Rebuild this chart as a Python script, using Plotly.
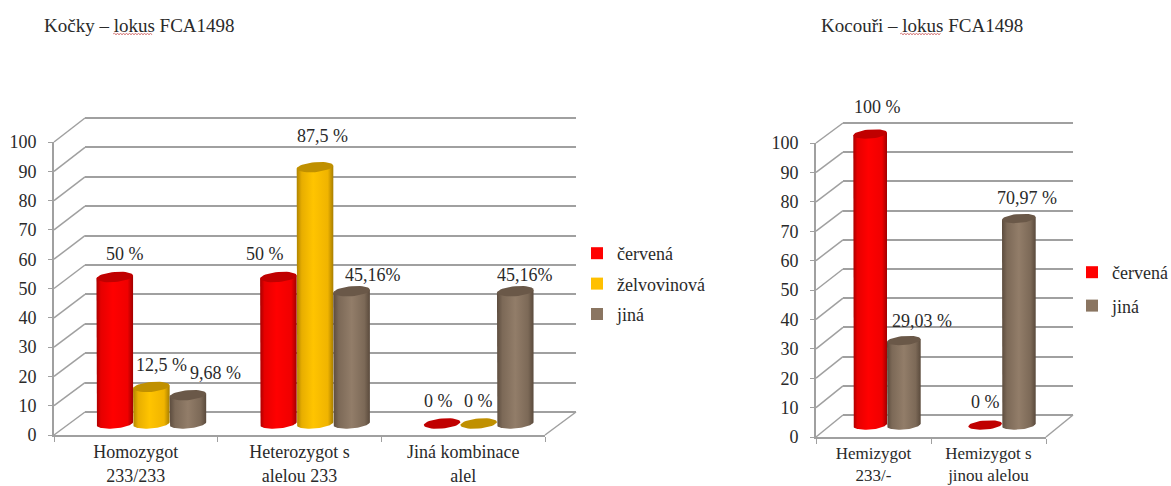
import math
import plotly.graph_objects as go

W, H = 1171, 486

# ---------- data ----------
left_title = "Kočky – lokus FCA1498"
right_title = "Kocouři – lokus FCA1498"
left_categories = ["Homozygot<br>233/233", "Heterozygot s<br>alelou 233", "Jiná kombinace<br>alel"]
right_categories = ["Hemizygot<br>233/-", "Hemizygot s<br>jinou alelou"]
left_red = [50, 50, 0]
left_yellow = [12.5, 87.5, 0]
left_brown = [9.68, 45.16, 45.16]
right_red = [100, 0]
right_brown = [29.03, 70.97]
left_red_labels = ["50 %", "50 %", "0 %"]
left_yellow_labels = ["12,5 %", "87,5 %", "0 %"]
left_brown_labels = ["9,68 %", "45,16%", "45,16%"]
right_red_labels = ["100 %", "0 %"]
right_brown_labels = ["29,03 %", "70,97 %"]
y_ticks = list(range(0, 101, 10))

# ---------- styles ----------
FONT = "Liberation Serif"
TXT = "#2a2a2a"
GRID = "#a0a0a0"
TEXT_SIZE = 18
STYLE = {
    "červená": dict(base="#ff0000", cap="#c00000",
                    grad=[[0, "#a80000"], [.12, "#e60000"], [.45, "#ff0000"], [.85, "#f00000"], [1, "#a00000"]]),
    "želvovinová": dict(base="#ffc000", cap="#c09000",
                        grad=[[0, "#b08400"], [.14, "#e8ae00"], [.45, "#ffc400"], [.85, "#f0b400"], [1, "#a87e00"]]),
    "jiná": dict(base="#8a7561", cap="#6a5848",
                 grad=[[0, "#5c4c3e"], [.15, "#7c6957"], [.5, "#927d69"], [.85, "#7c6957"], [1, "#5a4a3c"]]),
}

fig = go.Figure()
layout = dict(
    width=W, height=H, margin=dict(l=0, r=0, t=0, b=0, autoexpand=False), autosize=False,
    paper_bgcolor="white", plot_bgcolor="rgba(0,0,0,0)", barmode="overlay",
    font=dict(family=FONT, size=TEXT_SIZE, color=TXT), hovermode=False,
)
shapes, annotations = [], []


def px(v):
    return v / W


def py(v):
    return 1 - v / H


def chart(first, cats, series, front, depth, back_h, mid_y, bar_w, legend_name, legend_pos, gap):
    """front=(x0,x1,y0,y100) of the front plane; depth=(dx,dy) to the back wall."""
    fx0, fx1, fy0, fy100 = front
    dx, dy = depth
    ax = lambda i: "" if first + i == 1 else str(first + i)
    n = len(cats)
    ns = len(series)
    # back wall: range slightly wider than 0-100 so both edge gridlines are drawn
    bx, by = ax(0), ax(0)
    pad = back_h * 0.01
    layout["xaxis" + bx] = dict(domain=[px(fx0 + dx), px(fx1 + dx)], range=[0, 1], visible=False, anchor="y" + by)
    layout["yaxis" + by] = dict(domain=[py(fy0 - dy + pad), py(fy0 - dy - back_h - pad)], range=[-1, 101],
                                tickvals=y_ticks, showticklabels=False, ticks="", showgrid=True, gridcolor=GRID,
                                gridwidth=1.5, zeroline=False, showline=False, anchor="x" + bx)
    fig.add_trace(go.Scatter(x=[None], y=[None], xaxis="x" + bx, yaxis="y" + by, showlegend=False))
    # front plane: tick labels and axis lines
    f = ax(1)
    layout["xaxis" + f] = dict(domain=[px(fx0), px(fx1)], type="category", range=[-0.5, n - 0.5],
                               tickson="boundaries", ticks="outside", ticklen=5, tickcolor=GRID,
                               showgrid=False, showline=True, linecolor=GRID, linewidth=1.6, zeroline=False,
                               anchor="y" + f, tickfont=dict(family=FONT, size=gap["xsize"], color=TXT),
                               automargin=False, ticklabelstandoff=0, tickangle=0)
    layout["yaxis" + f] = dict(domain=[py(fy0), py(fy100)], range=[0, 100], tickvals=y_ticks, ticks="outside",
                               ticklen=4, tickcolor=GRID, showgrid=False, showline=True, linecolor=GRID,
                               linewidth=1.6, zeroline=False, anchor="x" + f, ticklabelstandoff=8,
                               tickfont=dict(family=FONT, size=18, color=TXT), automargin=False)
    fig.add_trace(go.Scatter(x=cats, y=[0] * n, mode="markers", marker=dict(opacity=0), xaxis="x" + f,
                             yaxis="y" + f, showlegend=False))
    # side wall and floor
    for t in y_ticks:
        yf = fy0 + (fy100 - fy0) * t / 100
        yb = (fy0 - dy) - back_h * t / 100
        shapes.append(dict(type="line", xref="paper", yref="paper", x0=px(fx0), x1=px(fx0 + dx), y0=py(yf), y1=py(yb),
                           line=dict(color=GRID, width=1.5), layer="below"))
    shapes.append(dict(type="line", xref="paper", yref="paper", x0=px(fx1), x1=px(fx1 + dx), y0=py(fy0),
                       y1=py(fy0 - dy), line=dict(color=GRID, width=1.5), layer="below"))
    # mid plane: the bars (range extends past 0 and 100 so the cylinder ends are not clipped)
    m = ax(2)
    mx0, mx1 = fx0 + dx / 2, fx1 + dx / 2
    my0, my100 = mid_y
    y_unit = (my0 - my100) / 100
    layout["xaxis" + m] = dict(domain=[px(mx0), px(mx1)], range=[-0.5, n - 0.5], visible=False, anchor="y" + m)
    layout["yaxis" + m] = dict(domain=[py(my0 + 12), py(my100 - 12)], range=[-12 / y_unit, 100 + 12 / y_unit],
                               visible=False, anchor="x" + m)
    rx = bar_w / 2
    ry = gap["ry"] / y_unit
    tilt = gap["tilt"] / y_unit
    pts = 40
    for j, (name, values, labels, shifts) in enumerate(series):
        st = STYLE[name]
        centers = [i + (j - (ns - 1) / 2) * bar_w for i in range(n)]
        fig.add_trace(go.Bar(x=centers, y=values, width=bar_w * 0.96, name=name,
                             marker=dict(color=st["base"], line=dict(width=0)),
                             xaxis="x" + m, yaxis="y" + m, legend=legend_name, legendgroup=legend_name + name))
        for c, v, lab, (sx, sy) in zip(centers, values, labels, shifts):
            if v > 0:
                xs, ys = [c - rx, c - rx], [v - tilt, 0 - tilt]
                for k in range(pts + 1):
                    a = math.pi + math.pi * k / pts
                    xs.append(c + rx * math.cos(a))
                    ys.append(ry * math.sin(a) + tilt * math.cos(a))
                xs += [c + rx]
                ys += [v + tilt]
                fig.add_trace(go.Scatter(x=xs, y=ys, mode="lines", line=dict(width=0), fill="toself",
                                         fillgradient=dict(type="horizontal", colorscale=st["grad"]),
                                         xaxis="x" + m, yaxis="y" + m, showlegend=False))
            xs, ys = [], []
            for k in range(pts + 1):
                a = 2 * math.pi * k / pts
                xs.append(c + rx * math.cos(a))
                ys.append(v + ry * math.sin(a) + tilt * math.cos(a))
            fig.add_trace(go.Scatter(x=xs, y=ys, mode="lines", line=dict(width=0), fill="toself", fillcolor=st["cap"],
                                     xaxis="x" + m, yaxis="y" + m, showlegend=False))
            annotations.append(dict(x=c, y=v, xref="x" + m, yref="y" + m, text=lab, showarrow=False, xshift=sx,
                                    yshift=sy, font=dict(family=FONT, size=TEXT_SIZE, color=TXT)))
    layout[legend_name] = dict(x=px(legend_pos[0]), y=py(legend_pos[1]), xanchor="left", yanchor="top",
                               bgcolor="rgba(0,0,0,0)", font=dict(family=FONT, size=TEXT_SIZE, color=TXT),
                               tracegroupgap=gap["legend"], itemwidth=30, traceorder="grouped")


chart(1, left_categories,
      [("červená", left_red, left_red_labels, [(10, 23), (-13, 23), (-4, 23)]),
       ("želvovinová", left_yellow, left_yellow_labels, [(10, 22), (7, 31), (0, 23)]),
       ("jiná", left_brown, left_brown_labels, [(28, 22), (21, 16), (10, 16)])],
      (54, 545, 435, 142), (31, 23), 294, (423.5, 130.5), 0.2235, "legend", (577, 235),
      dict(ry=5, tilt=1.5, legend=4, xsize=18))

chart(4, right_categories,
      [("červená", right_red, right_red_labels, [(7, 27), (0, 23)]),
       ("jiná", right_brown, right_brown_labels, [(18, 20), (8, 20)])],
      (816, 1046, 437, 143), (27, 22), 292, (425, 134), 0.293, "legend2", (1072, 254),
      dict(ry=4.5, tilt=1.3, legend=7, xsize=17))

annotations.append(dict(x=px(42), y=py(25), xref="paper", yref="paper", xanchor="left", yanchor="middle",
                        text=left_title, showarrow=False, font=dict(family=FONT, size=19, color=TXT)))
annotations.append(dict(x=px(819), y=py(25), xref="paper", yref="paper", xanchor="left", yanchor="middle",
                        text=right_title, showarrow=False, font=dict(family=FONT, size=19, color=TXT)))


def squiggle(x0, x1, y):
    path, x, up = f"M{px(x0)},{py(y)}", x0, True
    while x < x1:
        x += 1.5
        path += f"L{px(x)},{py(y - 1 if up else y + 1)}"
        up = not up
    return dict(type="path", xref="paper", yref="paper", path=path, line=dict(color="#d06a6a", width=0.8))


shapes.append(squiggle(113, 152, 34))
shapes.append(squiggle(900, 940, 34))

layout["shapes"] = shapes
layout["annotations"] = annotations
fig.update_layout(**layout)
fig.write_html("out.html", post_script="document.body.style.margin='0';", config=dict(displayModeBar=False))
